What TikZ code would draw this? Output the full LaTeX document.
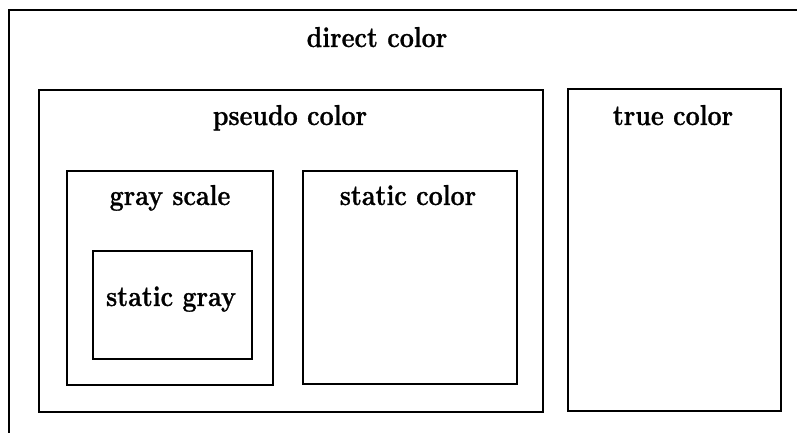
\documentclass[tikz,border=0pt]{standalone}
\usepackage{fontspec}
\usepackage{graphicx}
\newfontfamily\labfont{Latin Modern Roman}[FakeBold=1]
\newcommand{\tallTxt}[1]{\scalebox{1}[1.15]{#1}}
\begin{document}
\begin{tikzpicture}[x=1pt,y=-1pt,
  frame/.style={draw, line width=2pt, inner sep=0pt, anchor=north west},
  lab/.style={font=\labfont\bfseries\fontsize{25}{29}\selectfont, anchor=base, inner sep=0pt}]
\useasboundingbox (0,0) rectangle (797,433);
\coordinate (ob) at (9,433);
\coordinate (otl) at (9,10);
\coordinate (otr) at (797,10);
\draw[line width=2pt] (ob) -- (otl) -- (otr);
\node[frame, minimum width=504pt, minimum height=322pt] (pseudo) at (38,89) {};
\node[frame, minimum width=213pt, minimum height=322pt] (true) at (567,88) {};
\node[frame, minimum width=206pt, minimum height=214pt] (gray) at (66,170) {};
\node[frame, minimum width=214pt, minimum height=213pt] (scolor) at (302,170) {};
\node[frame, minimum width=159pt, minimum height=108pt] (sgray) at (92,250) {};
\node[lab] (tdirect) at (377,47) {\tallTxt{direct color}};
\node[lab] (tpseudo) at (290,125) {\tallTxt{pseudo color}};
\node[lab] (ttrue) at (673,125) {\tallTxt{true color}};
\node[lab] (tgray) at (170,205) {\tallTxt{gray scale}};
\node[lab] (tscolor) at (408,205) {\tallTxt{static color}};
\node[lab] (tsgray) at (171,306) {\tallTxt{static gray}};
\end{tikzpicture}
\end{document}
